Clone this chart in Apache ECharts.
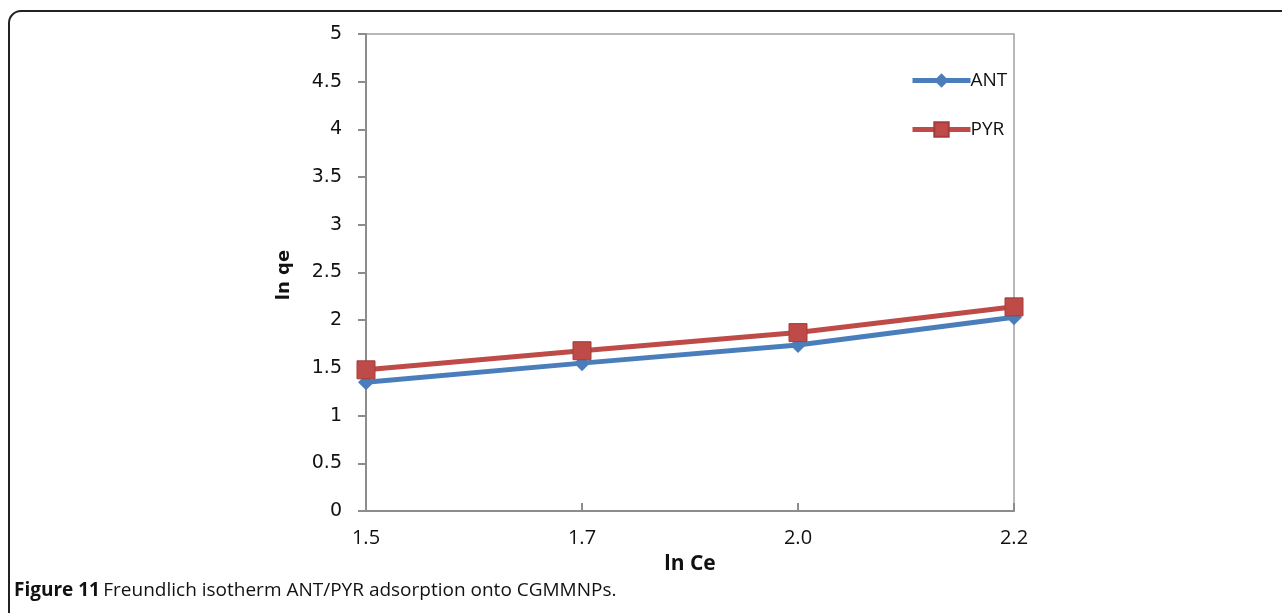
<!DOCTYPE html>
<html>
<head>
<meta charset="utf-8">
<script src="https://cdn.jsdelivr.net/npm/echarts@6/dist/echarts.min.js"></script>
<style>
  html, body { margin: 0; padding: 0; background: #fff; }
  #chart { width: 1282px; height: 613px; }
</style>
</head>
<body>
<div id="chart"></div>
<script>
// x categories (ln Ce)
const categories = ['1.5', '1.7', '2.0', '2.2']
// ln qe values
const antValues = [1.35, 1.55, 1.74, 2.03]
const pyrValues = [1.48, 1.68, 1.87, 2.14]

const blue = '#4a7ebb'
const red = '#be4b48'

const chart = echarts.init(document.getElementById('chart'))

const option = {
  animation: false,
  graphic: [
    {
      // figure frame
      type: 'rect',
      shape: { x: 9, y: 11, width: 1400, height: 800, r: 12 },
      style: { fill: 'none', stroke: '#222', lineWidth: 2 }
    },
    {
      // y axis title
      type: 'text',
      x: 284,
      y: 275,
      rotation: Math.PI / 2,
      style: {
        text: 'ln qe',
        fontFamily: 'DejaVu Sans',
        fontWeight: 'bold',
        fontSize: 18,
        fill: '#111',
        align: 'center',
        verticalAlign: 'middle'
      }
    },
    {
      type: 'text',
      left: 14,
      top: 581,
      style: {
        rich: {
          b: { fontFamily: 'Open Sans', fontWeight: 'bold', fontSize: 19, fill: '#111' },
          n: { fontFamily: 'Open Sans', fontSize: 19, fill: '#111' }
        },
        text: '{b|Figure 11} {n|Freundlich isotherm ANT/PYR adsorption onto CGMMNPs.}'
      }
    }
  ],
  grid: {
    left: 366,
    right: 268,
    top: 34,
    bottom: 102,
    show: true,
    borderColor: '#a0a0a0',
    borderWidth: 1.5
  },
  legend: {
    orient: 'vertical',
    left: 905,
    top: 66,
    itemWidth: 58,
    itemHeight: 18,
    itemGap: 30,
    lineStyle: { width: 5 },
    textStyle: { fontFamily: 'Open Sans', fontSize: 19, color: '#111', padding: [0, 0, 0, -5] },
    data: ['ANT', 'PYR']
  },
  xAxis: {
    type: 'category',
    data: categories,
    boundaryGap: false,
    name: 'ln Ce',
    nameLocation: 'middle',
    nameGap: 43,
    nameTextStyle: { fontFamily: 'Open Sans', fontWeight: 'bold', fontSize: 21, color: '#111' },
    axisLine: { lineStyle: { color: '#8c8c8c', width: 2 } },
    axisTick: { inside: true, length: 8, lineStyle: { color: '#8c8c8c', width: 2 } },
    axisLabel: { fontFamily: 'Open Sans', fontSize: 20, color: '#111', margin: 17 },
    splitLine: { show: false }
  },
  yAxis: {
    type: 'value',
    min: 0,
    max: 5,
    interval: 0.5,
    axisLine: { show: true, lineStyle: { color: '#8c8c8c', width: 2 } },
    axisTick: { show: true, length: 8, lineStyle: { color: '#8c8c8c', width: 2 } },
    axisLabel: { fontFamily: 'DejaVu Sans', fontSize: 19, color: '#111', margin: 24 },
    splitLine: { show: false }
  },
  series: [
    {
      name: 'ANT',
      type: 'line',
      data: antValues,
      symbol: 'diamond',
      symbolSize: 16,
      itemStyle: { color: blue },
      lineStyle: { color: blue, width: 5 },
      z: 2
    },
    {
      name: 'PYR',
      type: 'line',
      data: pyrValues,
      symbol: 'rect',
      symbolSize: 18,
      itemStyle: { color: red, borderColor: '#a63c3a', borderWidth: 1 },
      lineStyle: { color: red, width: 5 },
      z: 3
    }
  ]
}

chart.setOption(option)
</script>
</body>
</html>
